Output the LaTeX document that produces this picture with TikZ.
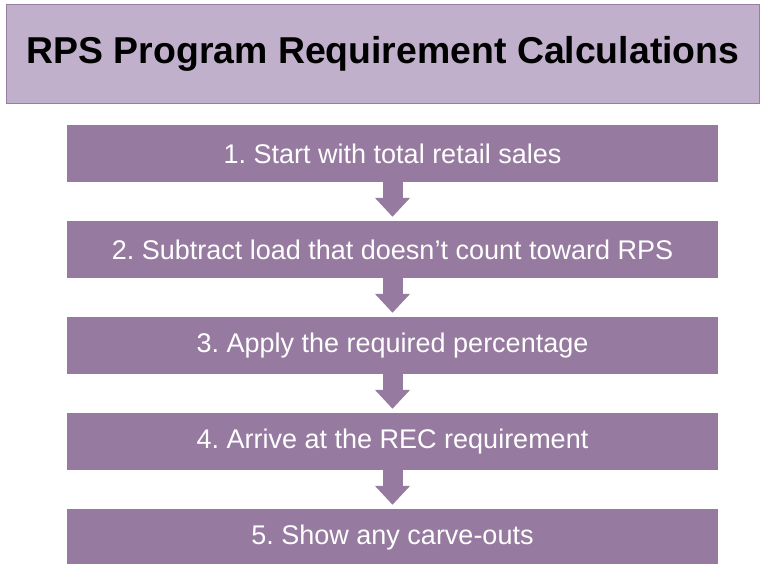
\documentclass[tikz,border=0pt]{standalone}
\usepackage{fontspec}
\setmainfont{Liberation Sans}
\usetikzlibrary{arrows.meta}
\definecolor{titlefill}{RGB}{192,176,203}
\definecolor{titleline}{RGB}{152,126,163}
\definecolor{stepfill}{RGB}{150,122,160}
\frenchspacing

\begin{document}
\begin{tikzpicture}[x=1pt,y=-1pt,
  titlebox/.style={draw=titleline, line width=1.5pt, fill=titlefill, minimum width=753pt, minimum height=99pt, inner sep=0pt, font=\bfseries\fontsize{37.4}{37.4}\selectfont},
  stepbox/.style={fill=stepfill, minimum width=651pt, minimum height=57pt, inner sep=0pt, text=white, font=\fontsize{27}{27}\selectfont},
  flow/.style={line width=20pt, draw=stepfill, -{Triangle[width=34pt,length=19pt]}, shorten >=4pt}]
\useasboundingbox (0,0) rectangle (761,564);
\node[titlebox] (title) at (383,54) {RPS Program Requirement Calculations};
\node[stepbox] (s1) at (392.5,153.5) {1. Start with total retail sales};
\node[stepbox] (s2) at (392.5,249.5) {2. Subtract load that doesn’t count toward RPS};
\node[stepbox] (s3) at (392.5,345.5) {3. Apply the required percentage};
\node[stepbox] (s4) at (392.5,441.5) {4. Arrive at the REC requirement};
\node[stepbox] (s5) at (392.5,537.5) {5. Show any carve-outs};
\draw [flow] (s1) -- (s2); \draw [flow] (s2) -- (s3);
\draw [flow] (s3) -- (s4); \draw [flow] (s4) -- (s5);
\end{tikzpicture}
\end{document}
